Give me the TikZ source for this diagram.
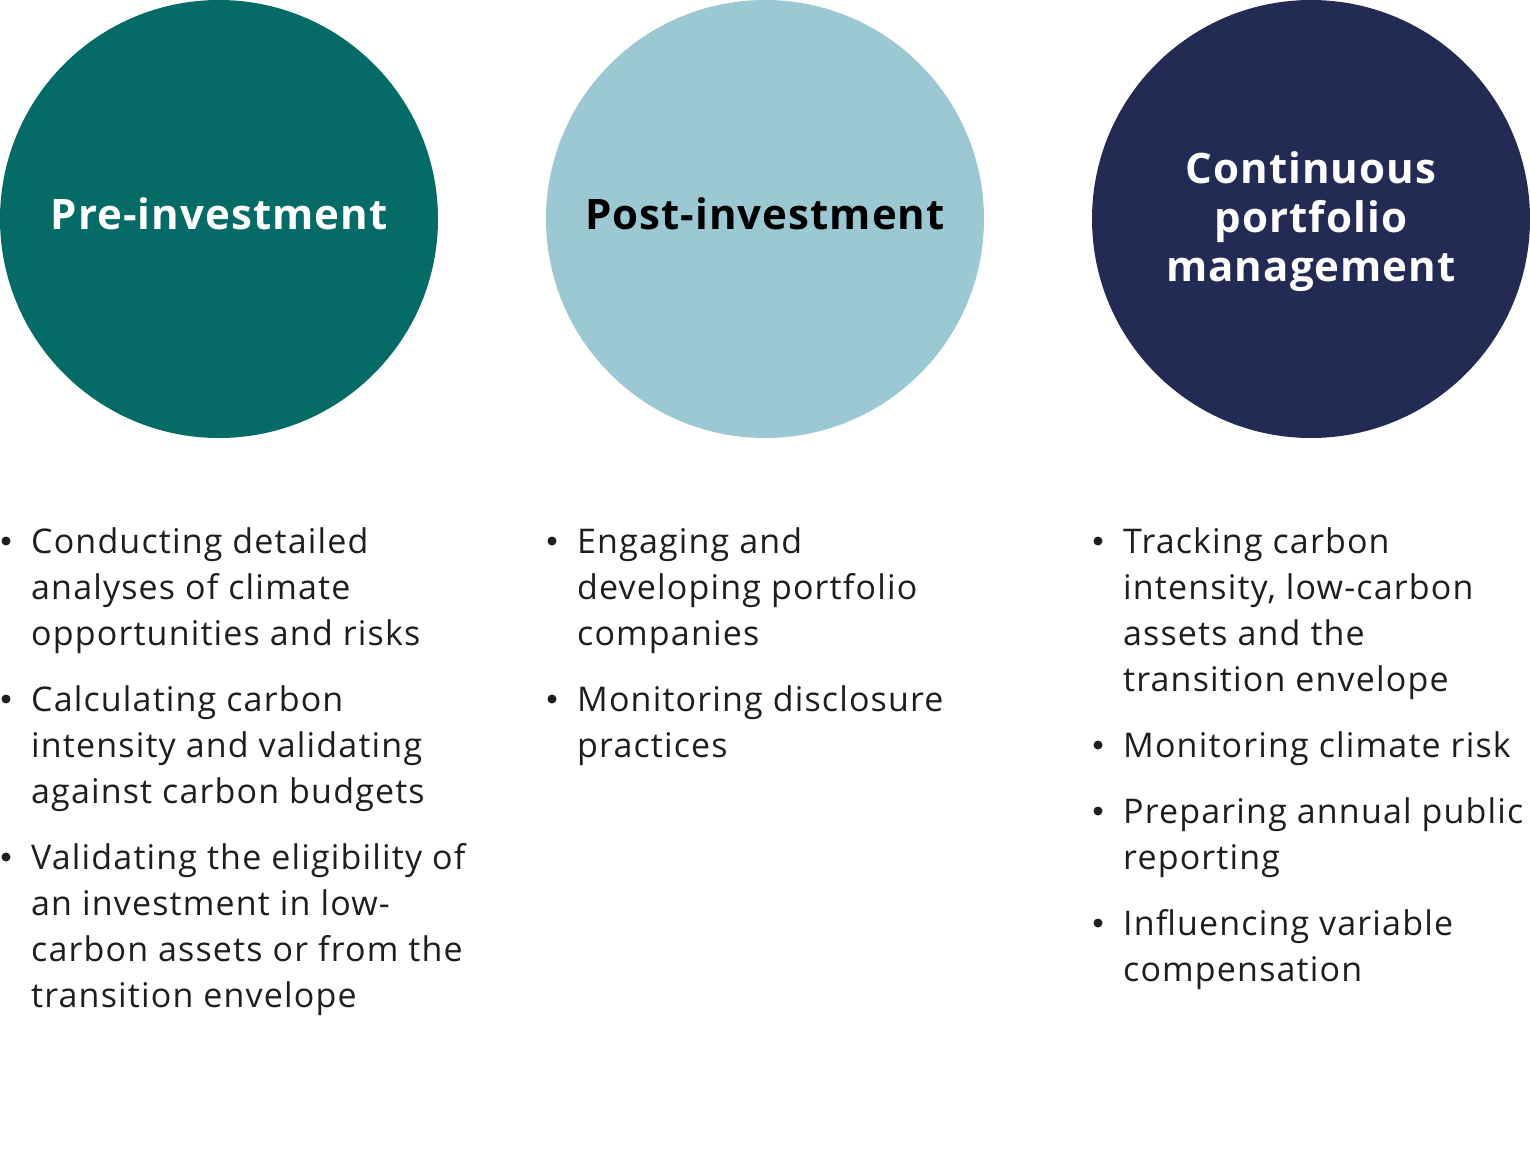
\documentclass[tikz,border=0pt]{standalone}
\usepackage{fontspec}
\setmainfont{Open Sans}
\definecolor{tealc}{HTML}{056B66}
\definecolor{lightblue}{HTML}{9CC8D3}
\definecolor{navy}{HTML}{232A54}
\definecolor{txt}{HTML}{1E1E1E}
\newcommand\mylines[1]{\vtop{\baselineskip=46pt\lineskiplimit=-100pt\lineskip=0pt #1}}
\newcommand\cpmtitle{\vtop{\baselineskip=49pt\lineskiplimit=-100pt\lineskip=0pt\halign{\hfil##\hfil\cr Continuous\cr portfolio\cr management\cr}}}
\begin{document}
\begin{tikzpicture}[x=1pt,y=-1pt,
  phase/.style={circle,minimum size=438pt,inner sep=0pt},
  title/.style={font=\fontsize{42}{49}\selectfont\bfseries\addfontfeature{LetterSpace=2.5},inner sep=0pt},
  item/.style={anchor=base west,inner sep=0pt,text=txt,font=\fontsize{34}{46}\selectfont\addfontfeature{LetterSpace=3.4}},
  dot/.style={fill=txt}]
\useasboundingbox (0,0) rectangle (1530,1164);
\node[phase,fill=tealc] (c1) at (219,219) {};
\node[phase,fill=lightblue] (c2) at (765,219) {};
\node[phase,fill=navy] (c3) at (1311,219) {};
\node[title,text=white,anchor=base] (t1) at (219,229) {Pre-investment};
\node[title,text=black,anchor=base] (t2) at (765,229) {Post-investment};
\node[title,text=white,anchor=base] (t3) at (1311,183) {\cpmtitle};
% column 1
\node[item] (a1) at (31,553) {\mylines{\hbox{Conducting detailed}\hbox{analyses of climate}\hbox{opportunities and risks}}};
\node[item] (a2) at (31,711) {\mylines{\hbox{Calculating carbon}\hbox{intensity and validating}\hbox{against carbon budgets}}};
\node[item] (a3) at (31,869) {\mylines{\hbox{Validating the eligibility of}\hbox{an investment in low-}\hbox{carbon assets or from the}\hbox{transition envelope}}};
% column 2
\node[item] (b1) at (577,553) {\mylines{\hbox{Engaging and}\hbox{developing portfolio}\hbox{companies}}};
\node[item] (b2) at (577,711) {\mylines{\hbox{Monitoring disclosure}\hbox{practices}}};
% column 3
\node[item] (d1) at (1123,553) {\mylines{\hbox{Tracking carbon}\hbox{intensity, low-carbon}\hbox{assets and the}\hbox{transition envelope}}};
\node[item] (d2) at (1123,757) {\mylines{\hbox{Monitoring climate risk}}};
\node[item] (d3) at (1123,823) {\mylines{\hbox{Preparing annual public}\hbox{reporting}}};
\node[item] (d4) at (1123,935) {\mylines{\hbox{Influencing variable}\hbox{compensation}}};
\foreach \n in {a1,a2,a3,b1,b2,d1,d2,d3,d4}
  \fill[dot] (\n.base west) ++(-25,-12) circle (4.5);
\end{tikzpicture}
\end{document}
